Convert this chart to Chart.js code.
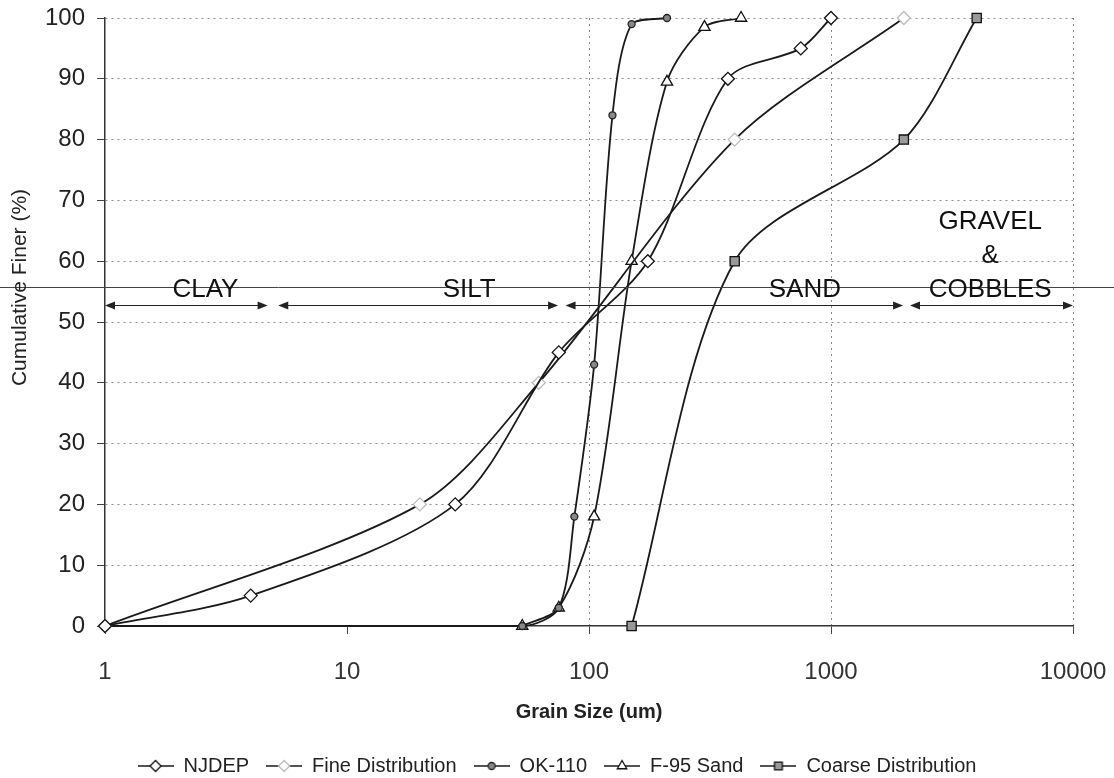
<!DOCTYPE html>
<html>
<head>
<meta charset="utf-8">
<script src="https://cdn.jsdelivr.net/npm/chart.js@4.4.1/dist/chart.umd.min.js"></script>
<style>
  html, body { margin: 0; padding: 0; background: #fff; }
  #wrap { width: 1114px; height: 778px; }
</style>
</head>
<body>
<div id="wrap"><canvas id="chart" width="1114" height="778"></canvas></div>
<script>
// grain size (um) / cumulative finer (%)
const njdepX = [1, 4, 28, 75, 175, 375, 750, 1000];
const njdepY = [0, 5, 20, 45, 60, 90, 95, 100];

const fineX = [1, 20, 62, 400, 2000];
const fineY = [0, 20, 40, 80, 100];

const ok110X = [1, 53, 75, 87, 105, 125, 150, 210];
const ok110Y = [0, 0, 3, 18, 43, 84, 99, 100];

const f95X = [53, 75, 105, 150, 210, 300, 425];
const f95Y = [0, 3, 18, 60, 89.5, 98.5, 100];

const coarseX = [150, 400, 2000, 4000];
const coarseY = [0, 60, 80, 100];

const xTicks = [1, 10, 100, 1000, 10000];

// soil classes
const zoneNames = ['CLAY', 'SILT', 'SAND', 'GRAVEL\n&\nCOBBLES'];
const zoneFrom = [1, 5.2, 80, 2120];
const zoneTo = [4.7, 74.5, 1985, 10000];
const zoneLabelAt = [2.6, 32, 780, 4550];
const zoneLineValue = 55.8;
const zoneArrowValue = 52.8;

const pts = (xs, ys) => xs.map((x, i) => ({ x: x, y: ys[i] }));

const FONT = "'Liberation Sans', Arial, sans-serif";
const INK = '#1a1a1a';

function legendIcon(style, fill, stroke) {
  const c = document.createElement('canvas');
  c.width = 36; c.height = 16;
  const g = c.getContext('2d');
  g.strokeStyle = INK; g.lineWidth = 1.5;
  g.beginPath(); g.moveTo(0, 8); g.lineTo(36, 8); g.stroke();
  g.fillStyle = fill; g.strokeStyle = stroke; g.lineWidth = 1.3;
  Chart.helpers.drawPoint(g, { pointStyle: style, radius: style === 'circle' ? 3.5 : 5.5, borderWidth: 1.3 }, 18, 8);
  return c;
}

const zonePlugin = {
  id: 'zones',
  afterDatasetsDraw(chart) {
    const { ctx, scales: { x, y } } = chart;
    ctx.save();
    // class boundary line
    const ly = Math.round(y.getPixelForValue(zoneLineValue)) + 0.5;
    ctx.strokeStyle = '#444';
    ctx.lineWidth = 1;
    ctx.beginPath(); ctx.moveTo(0, ly); ctx.lineTo(chart.width, ly); ctx.stroke();

    const ay = Math.round(y.getPixelForValue(zoneArrowValue)) + 0.5;
    ctx.fillStyle = '#222';
    ctx.strokeStyle = '#222';
    zoneFrom.forEach((f, i) => {
      const x0 = x.getPixelForValue(f);
      const x1 = x.getPixelForValue(zoneTo[i]);
      ctx.beginPath(); ctx.moveTo(x0 + 4, ay); ctx.lineTo(x1 - 4, ay); ctx.stroke();
      ctx.beginPath(); ctx.moveTo(x0, ay); ctx.lineTo(x0 + 10, ay - 4); ctx.lineTo(x0 + 10, ay + 4); ctx.closePath(); ctx.fill();
      ctx.beginPath(); ctx.moveTo(x1, ay); ctx.lineTo(x1 - 10, ay - 4); ctx.lineTo(x1 - 10, ay + 4); ctx.closePath(); ctx.fill();
    });

    ctx.font = '26px ' + FONT;
    ctx.textAlign = 'center';
    ctx.textBaseline = 'alphabetic';
    zoneNames.forEach((name, i) => {
      const cx = x.getPixelForValue(zoneLabelAt[i]);
      const lines = name.split('\n');
      lines.forEach((t, k) => {
        const by = ly + 9 - (lines.length - 1 - k) * 34;
        ctx.fillStyle = '#111';
        ctx.fillText(t, cx, by);
      });
    });

    // y title
    ctx.save();
    ctx.translate(20, ly);
    ctx.rotate(-Math.PI / 2);
    ctx.font = '21px ' + FONT;
    ctx.fillStyle = '#222';
    ctx.textAlign = 'center';
    ctx.textBaseline = 'middle';
    ctx.fillText('Cumulative Finer (%)', 0, 0);
    ctx.restore();
    ctx.restore();
  }
};

const lineSet = (label, data, style, fill, stroke, radius) => ({
  label: label,
  data: data,
  showLine: true,
  tension: 0.3,
  clip: { left: 8, top: 8, right: 8, bottom: 8 },
  borderColor: INK,
  borderWidth: 1.8,
  pointStyle: style,
  pointRadius: radius,
  pointBackgroundColor: fill,
  pointBorderColor: stroke,
  pointBorderWidth: 1.3,
  icon: legendIcon(style, fill, stroke)
});

new Chart(document.getElementById('chart'), {
  type: 'scatter',
  data: {
    datasets: [
      lineSet('NJDEP', pts(njdepX, njdepY), 'rectRot', '#fff', '#111', 6.5),
      lineSet('Fine Distribution', pts(fineX, fineY), 'rectRot', '#fff', '#bbb', 6.5),
      lineSet('OK-110', pts(ok110X, ok110Y), 'circle', '#888', '#222', 3.5),
      lineSet('F-95 Sand', pts(f95X, f95Y), 'triangle', '#fff', '#111', 6.5),
      lineSet('Coarse Distribution', pts(coarseX, coarseY), 'rect', '#999', '#111', 6.5)
    ]
  },
  options: {
    responsive: false,
    animation: false,
    layout: { padding: { top: 0, right: 0, bottom: -8, left: 0 } },
    plugins: {
      tooltip: { enabled: false },
      legend: {
        position: 'bottom',
        labels: {
          usePointStyle: true,
          pointStyleWidth: 36,
          padding: 17,
          color: '#222',
          font: { family: FONT, size: 20 },
          generateLabels(chart) {
            return chart.data.datasets.map((ds, i) => ({
              text: ds.label,
              pointStyle: ds.icon,
              fillStyle: '#fff',
              strokeStyle: INK,
              lineWidth: 0,
              fontColor: '#222',
              datasetIndex: i
            }));
          }
        }
      }
    },
    scales: {
      x: {
        type: 'logarithmic',
        min: 1,
        max: 10000,
        afterBuildTicks(scale) { scale.ticks = xTicks.map(v => ({ value: v })); },
        afterFit(scale) {
          scale.height = 113;
          scale.paddingRight = 41;
          scale.paddingLeft = 0;
        },
        border: { display: true, color: '#333', width: 1.5, dash: [2, 4] },
        grid: {
          tickLength: 8,
          color: ctx => (ctx.tick && ctx.tick.value >= 100) ? '#888' : 'rgba(0,0,0,0)',
          tickColor: '#444',
          lineWidth: 1
        },
        ticks: {
          color: '#333',
          font: { family: FONT, size: 24 },
          padding: 24,
          maxRotation: 0,
          callback: v => String(v)
        },
        title: {
          display: true,
          text: 'Grain Size (um)',
          color: '#222',
          font: { family: FONT, size: 20, weight: 'bold' },
          padding: { top: 8, bottom: 15 }
        }
      },
      y: {
        min: 0,
        max: 100,
        afterFit(scale) {
          scale.width = 105;
          scale.paddingTop = 18;
          scale.paddingBottom = 0;
        },
        border: { display: true, color: '#333', width: 1.5, dash: [2, 4] },
        grid: {
          color: ctx => (ctx.tick && ctx.tick.value === 0) ? 'rgba(0,0,0,0)' : '#8a8a8a',
          tickLength: 8,
          tickColor: '#444'
        },
        ticks: {
          stepSize: 10,
          color: '#222',
          font: { family: FONT, size: 24 },
          padding: 12
        }
      }
    }
  },
  plugins: [zonePlugin]
});
</script>
</body>
</html>
